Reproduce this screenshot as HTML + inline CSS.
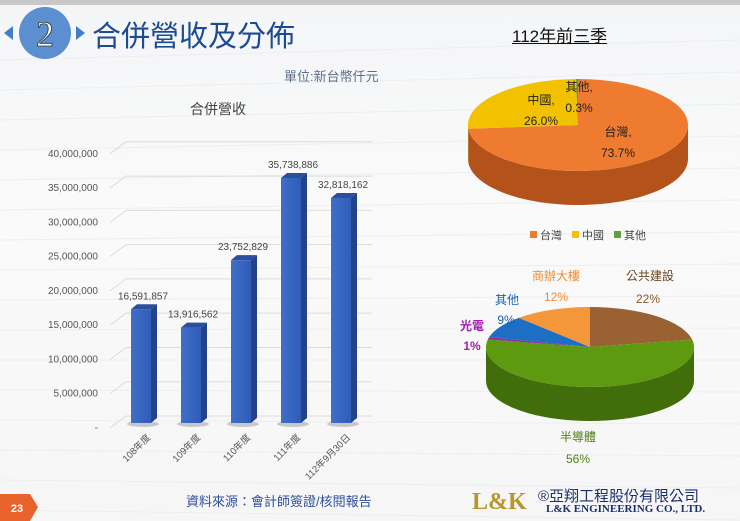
<!DOCTYPE html>
<html><head><meta charset="utf-8">
<style>
body{margin:0;width:740px;height:521px;overflow:hidden;background:#fff;font-family:"Liberation Sans","Noto Sans CJK TC",sans-serif;}
#root{position:relative;width:740px;height:521px;background:linear-gradient(#f4f5f7,#fafafa 40%,#f6f6f7);}
.t{position:absolute;white-space:nowrap;}
</style></head><body>
<div id="root">
<svg width="740" height="521" style="position:absolute;left:0;top:0">
<g id="bg" stroke="#eceef0" stroke-width="1" fill="none"></g>
<rect x="0" y="0" width="740" height="5" fill="#c8c8c8"/>
<g>
<polygon points="4,33 13,26 13,40" fill="#3f7fc7"/>
<polygon points="76,26 85,33 76,40" fill="#3f7fc7"/>
<circle cx="45" cy="33" r="26" fill="#5b8fcf"/>
<text x="45" y="46" text-anchor="middle" font-family="Liberation Serif,serif" font-size="36" fill="#fff" stroke="#333" stroke-width="0.8">2</text>
</g>
<g id="bars"></g>
<g id="pie1"></g>
<g id="pie2"></g>
<g>
<polygon points="0,494 30,494 38,507 30,521 0,521" fill="#e8622c"/>
<text x="17" y="512" text-anchor="middle" font-size="11" font-weight="bold" fill="#fff">23</text>
</g>
</svg>
<div class="t" style="left:92px;top:13px;font-size:29px;color:#1b4c93;">合併營收及分佈</div>
<div class="t" style="left:512px;top:22px;font-size:17px;color:#111;text-decoration:underline;">112年前三季</div>
<div class="t" style="left:284px;top:66px;font-size:13px;color:#5a6d8a;">單位:新台幣仟元</div>
<div class="t" style="left:190px;top:99px;font-size:14px;color:#444;">合併營收</div>
<div class="t" style="left:186px;top:491px;font-size:13px;color:#2d4f9c;">資料來源：會計師簽證/核閱報告</div>
<div class="t" style="left:472px;top:489px;font-family:'Liberation Serif',serif;font-size:24px;font-weight:bold;color:#b8962c;">L&amp;K</div>
<div class="t" style="left:538px;top:485px;font-size:15px;color:#1b2f6b;">®亞翔工程股份有限公司</div>
<div class="t" style="left:546px;top:503px;font-family:'Liberation Serif',serif;font-size:11px;font-weight:bold;color:#1b2f6b;">L&amp;K ENGINEERING CO., LTD.</div>
</div>
<script>
const NS='http://www.w3.org/2000/svg';
function mk(p,tag,a){const e=document.createElementNS(NS,tag);for(const k in a)e.setAttribute(k,a[k]);p.appendChild(e);return e;}
const bg=document.getElementById('bg');
for(let i=0;i<16;i++){mk(bg,'line',{x1:0,y1:60+i*30,x2:740,y2:40+i*32});}

// ===== Bar chart data =====
const barCategories=['108年度','109年度','110年度','111年度','112年9月30日'];
const barValues=[16591857,13916562,23752829,35738886,32818162];
const barLabels=['16,591,857','13,916,562','23,752,829','35,738,886','32,818,162'];
const yTicks=[0,5000000,10000000,15000000,20000000,25000000,30000000,35000000,40000000];
const yTickLabels=['-','5,000,000','10,000,000','15,000,000','20,000,000','25,000,000','30,000,000','35,000,000','40,000,000'];

const bars=document.getElementById('bars');
const base=423, pxPer=245/35738886;
const yS=v=>base-v*pxPer;
const xS=i=>131+i*50;
yTicks.forEach((v,i)=>{
  const y=yS(v);
  const g=mk(bars,'polyline',{points:`110,${y+5} 126,${y-7} 372,${y-7}`,fill:'none',stroke:'#dcdcdc','stroke-width':1});
  
  
  const t=mk(bars,'text',{x:98,y:y+8,'text-anchor':'end','font-size':10,fill:'#555'});
  t.textContent=yTickLabels[i];
  
  
});
const defs=mk(bars,'defs',{});
const lg=mk(defs,'linearGradient',{id:'bf',x1:0,y1:0,x2:1,y2:0});
mk(lg,'stop',{offset:'0','stop-color':'#3f6fc7'});mk(lg,'stop',{offset:'1','stop-color':'#2f5cb8'});
barValues.forEach((v,i)=>{
  const x=xS(i),y=yS(v),w=20,d=6,u=5;
  const g=mk(bars,'g',{});
  
  
  mk(g,'ellipse',{cx:x+12,cy:base+1,rx:16,ry:3,fill:'#999',opacity:0.5});
  mk(g,'rect',{x:x,y:y,width:w,height:base-y,fill:'url(#bf)'});
  mk(g,'polygon',{points:`${x+w},${y} ${x+w+d},${y-u} ${x+w+d},${base-u} ${x+w},${base}`,fill:'#22438a'});
  mk(g,'polygon',{points:`${x},${y} ${x+d},${y-u} ${x+w+d},${y-u} ${x+w},${y}`,fill:'#2a4f9c'});
  const t=mk(bars,'text',{x:x+12,y:y-10,'text-anchor':'middle','font-size':10,fill:'#444'});
  t.textContent=barLabels[i];
  
  
  const c=mk(bars,'text',{x:x+20,y:base+15,'text-anchor':'end','font-size':9.5,fill:'#555',transform:`rotate(-45 ${x+20} ${base+15})`});
  c.textContent=barCategories[i];
  
  
});

function pie(g,cx,cy,rx,ry,dep,vals,cols,side){
  const tot=vals.reduce((a,b)=>a+b,0);
  const P=(a,dy)=>[cx+rx*Math.sin(a),cy-ry*Math.cos(a)+(dy||0)];
  let a0=0;const angs=vals.map(v=>{const s=a0;a0+=v/tot*2*Math.PI;return [s,a0];});
  angs.forEach(([s,e],i)=>{
    const lo=Math.max(s,Math.PI/2),hi=Math.min(e,3*Math.PI/2);
    if(hi<=lo)return;
    let pts=[];const n=40;
    for(let k=0;k<=n;k++)pts.push(P(lo+(hi-lo)*k/n));
    for(let k=n;k>=0;k--)pts.push(P(lo+(hi-lo)*k/n,dep));
    const p=mk(g,'polygon',{points:pts.map(q=>q.join(',')).join(' '),fill:side[i]});
    
    
  });
  angs.forEach(([s,e],i)=>{
    const a=P(s),b=P(e),large=(e-s)>Math.PI?1:0;
    const p=mk(g,'path',{d:`M${cx},${cy}L${a[0]},${a[1]}A${rx},${ry} 0 ${large} 1 ${b[0]},${b[1]}Z`,fill:cols[i]});
    
    
  });
}

// ===== Pie 1 data =====
const regionNames=['台灣','中國','其他'];
const regionValues=[73.7,26.0,0.3];
const regionColors=['#ee7b30','#f2c200','#5aa53a'];
const regionSide=['#b3521a','#b38f00','#3f7a28'];
const p1=document.getElementById('pie1');
pie(p1,578,125,110,46,34,regionValues,regionColors,regionSide);
function lbl(g,x,y,txt,col,size,bold,name){const t=mk(g,'text',{x:x,y:y,'text-anchor':'middle','font-size':size,fill:col,'font-weight':bold?'bold':'normal'});t.textContent=txt;}
lbl(p1,618,136,regionNames[0]+',','#222',12,false,'data-label');
lbl(p1,618,157,regionValues[0].toFixed(1)+'%','#222',12,false,'data-label');
lbl(p1,541,104,regionNames[1]+',','#222',12,false,'data-label');
lbl(p1,541,125,regionValues[1].toFixed(1)+'%','#222',12,false,'data-label');
lbl(p1,579,91,regionNames[2]+',','#222',12,false,'data-label');
lbl(p1,579,112,regionValues[2].toFixed(1)+'%','#222',12,false,'data-label');
const legX=[530,572,614];
regionNames.forEach((n,i)=>{
  const r=mk(p1,'rect',{x:legX[i],y:231,width:7,height:7,fill:regionColors[i]});
  
  
  const t=mk(p1,'text',{x:legX[i]+10,y:239,'font-size':11,fill:'#444'});t.textContent=n;
  
  
});

// ===== Pie 2 data =====
const industryNames=['公共建設','半導體','光電','其他','商辦大樓'];
const industryValues=[22,56,1,9,12];
const industryColors=['#9a6233','#5e9a10','#8f2fa0','#1c6fc4','#f4963a'];
const industrySide=['#6a421f','#416e0a','#5f1f6a','#124c88','#b86a22'];
const p2=document.getElementById('pie2');
pie(p2,590,347,104,40,34,industryValues,industryColors,industrySide);
lbl(p2,650,280,industryNames[0],'#6b4522',12,false,'data-label');
lbl(p2,648,303,industryValues[0]+'%','#8a5a2c',12,false,'data-label');
lbl(p2,578,441,industryNames[1],'#4f7f10',12,false,'data-label');
lbl(p2,578,463,industryValues[1]+'%','#4f7f10',12,false,'data-label');
lbl(p2,472,330,industryNames[2],'#a020b0',12,true,'data-label');
lbl(p2,472,350,industryValues[2]+'%','#a020b0',12,true,'data-label');
lbl(p2,507,304,industryNames[3],'#1c5fb0',12,false,'data-label');
lbl(p2,506,324,industryValues[3]+'%','#1c5fb0',12,false,'data-label');
lbl(p2,556,280,industryNames[4],'#f08a30',12,false,'data-label');
lbl(p2,556,301,industryValues[4]+'%','#f08a30',12,false,'data-label');
</script>
</body></html>
